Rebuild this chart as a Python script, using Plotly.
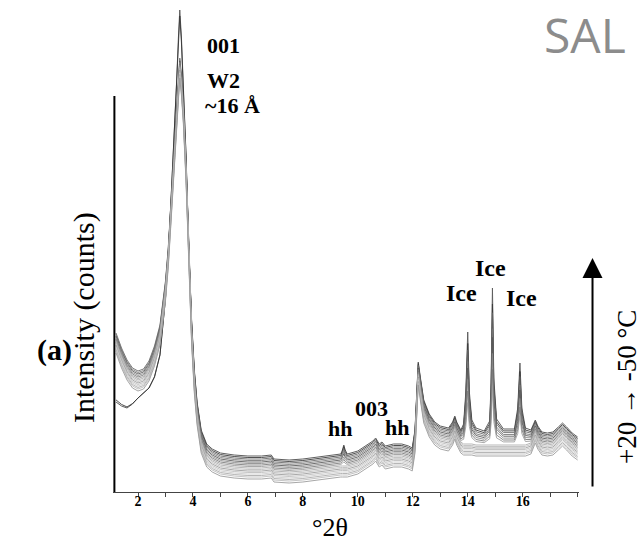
import plotly.graph_objects as go

# ---------------- data ----------------
two_theta = [
    1.2, 1.4, 1.6, 1.8, 2.0, 2.2, 2.4, 2.6, 2.8, 3.0,
    3.1, 3.2, 3.3, 3.4, 3.47, 3.52, 3.58, 3.65, 3.75, 3.85,
    3.95, 4.05, 4.15, 4.3, 4.5, 4.7, 5.0, 5.5, 6.0, 6.5,
    6.85, 6.95, 7.5, 8.0, 8.5, 9.0, 9.38, 9.44, 9.49, 9.54,
    9.62, 10.0, 10.3, 10.55, 10.65, 10.78, 10.88, 11.0, 11.3, 11.6,
    11.85, 11.98, 12.08, 12.15, 12.2, 12.28, 12.4, 12.6, 12.8, 13.0,
    13.3, 13.45, 13.53, 13.6, 13.75, 13.85, 13.93, 14.0, 14.06, 14.15,
    14.3, 14.6, 14.8, 14.85, 14.9, 14.95, 15.05, 15.3, 15.7, 15.82,
    15.9, 15.97, 16.1, 16.3, 16.46, 16.55, 16.7, 16.9, 17.1, 17.3,
    17.45, 17.6, 17.8, 18.0,
]

# uppermost pattern (counts, arbitrary units)
base_counts = [
    160, 145, 133, 125, 122, 124, 132, 147, 168, 212,
    245, 290, 340, 390, 422, 435, 418, 390, 330, 240,
    170, 120, 88, 60, 46, 41, 37, 35, 34, 34,
    35, 31, 30, 31, 33, 35, 36, 36, 36, 36,
    36, 39, 44, 49, 52, 46, 48, 44, 46, 46,
    44, 42, 60, 105, 128, 112, 90, 76, 68, 64,
    62, 68, 74, 68, 60, 58, 58, 58, 58, 58,
    57, 57, 57, 57, 57, 57, 57, 57, 57, 57,
    57, 57, 57, 59, 70, 64, 58, 57, 58, 63,
    67, 63, 57, 53,
]

# ice reflections (present at low temperature)
ice_counts = [
    0, 0, 0, 0, 0, 0, 0, 0, 0, 0,
    0, 0, 0, 0, 0, 0, 0, 0, 0, 0,
    0, 0, 0, 0, 0, 0, 0, 0, 0, 0,
    0, 0, 0, 0, 0, 0, 0, 0, 0, 0,
    0, 0, 0, 0, 0, 0, 0, 0, 0, 0,
    0, 0, 0, 0, 0, 0, 0, 0, 0, 0,
    0, 0, 0, 0, 0, 8, 40, 100, 40, 12,
    5, 2, 12, 50, 145, 55, 14, 4, 4, 25,
    70, 25, 5, 1, 0, 0, 0, 0, 0, 0,
    0, 0, 0, 0,
]

# hydrohalite (hh) reflection near 9.5 deg
hh_counts = [
    0, 0, 0, 0, 0, 0, 0, 0, 0, 0,
    0, 0, 0, 0, 0, 0, 0, 0, 0, 0,
    0, 0, 0, 0, 0, 0, 0, 0, 0, 0,
    0, 0, 0, 0, 0, 0, 0, 4, 9, 4,
    0, 0, 0, 0, 0, 0, 0, 0, 0, 0,
    0, 0, 0, 0, 0, 0, 0, 0, 0, 0,
    0, 0, 0, 0, 0, 0, 0, 0, 0, 0,
    0, 0, 0, 0, 0, 0, 0, 0, 0, 0,
    0, 0, 0, 0, 0, 0, 0, 0, 0, 0,
    0, 0, 0, 0,
]

# extra height of the sharpest 001 (W2) peaks
w2_extra = [
    0, 0, 0, 0, 0, 0, 0, 0, 0, 0,
    0, 0, 4, 15, 30, 45, 35, 15, 4, 0,
    0, 0, 0, 0, 0, 0, 0, 0, 0, 0,
    0, 0, 0, 0, 0, 0, 0, 0, 0, 0,
    0, 0, 0, 0, 0, 0, 0, 0, 0, 0,
    0, 0, 0, 0, 0, 0, 0, 0, 0, 0,
    0, 0, 0, 0, 0, 0, 0, 0, 0, 0,
    0, 0, 0, 0, 0, 0, 0, 0, 0, 0,
    0, 0, 0, 0, 0, 0, 0, 0, 0, 0,
    0, 0, 0, 0,
]

# lower low-angle scatter of two patterns
low_angle_drop = [
    72, 61, 51, 39, 30, 27, 30, 34, 33, 20,
    10, 0, 0, 0, 0, 0, 0, 0, 0, 0,
    0, 0, 0, 0, 0, 0, 0, 0, 0, 0,
    0, 0, 0, 0, 0, 0, 0, 0, 0, 0,
    0, 0, 0, 0, 0, 0, 0, 0, 0, 0,
    0, 0, 0, 0, 0, 0, 0, 0, 0, 0,
    0, 0, 0, 0, 0, 0, 0, 0, 0, 0,
    0, 0, 0, 0, 0, 0, 0, 0, 0, 0,
    0, 0, 0, 0, 0, 0, 0, 0, 0, 0,
    0, 0, 0, 0,
]

# per-pattern parameters (cold -> warm)
curve_shift = [0, -1.5, -3, -4.5, -6, -7.5, -9, -10.5, -12, -13.5, -15, -16.5, -18, -19.5, -21, -23]
curve_ice = [1.0, 0.9, 0.85, 0.75, 0.7, 0.6, 0.5, 0.4, 0, 0, 0, 0, 0, 0, 0, 0]
curve_hh = [1.0, 1.0, 0.9, 0.8, 0.7, 0.5, 0.4, 0.3, 0, 0, 0, 0, 0, 0, 0, 0]
curve_w2 = [1.0, 0.9, 0, 0, 0, 0, 0, 0, 0, 0, 0, 0, 0, 0, 0, 0]
curve_low = [1.0, 0.95, 0, 0, 0, 0, 0, 0, 0, 0, 0, 0, 0, 0, 0, 0]
curve_grey = ["#444444", "#333333", "#666666", "#777777", "#555555", "#888888",
              "#777777", "#999999", "#aaaaaa", "#bbbbbb", "#999999", "#bbbbbb",
              "#cccccc", "#aaaaaa", "#bbbbbb", "#999999"]

tick_vals = [2, 4, 6, 8, 10, 12, 14, 16]
tick_text = ["2", "4", "6", "8", "10", "12", "14", "16"]
minor_vals = [3, 5, 7, 9, 11, 13, 15, 17, 18]

SERIF = "Liberation Serif"

fig = go.Figure()
for i in range(len(curve_shift)):
    yv = [b + curve_shift[i] + curve_ice[i] * ic + curve_hh[i] * h
          + curve_w2[i] * w - curve_low[i] * lo
          for b, ic, h, w, lo in zip(base_counts, ice_counts, hh_counts,
                                     w2_extra, low_angle_drop)]
    fig.add_trace(go.Scatter(x=two_theta, y=yv, mode="lines",
                             line=dict(color=curve_grey[i], width=1),
                             opacity=0.85, hoverinfo="skip", showlegend=False))

peak_labels = [
    ("001", 4.44, 445, "left", 22),
    ("W2", 4.44, 410, "left", 22),
    ("~16 Å", 4.38, 385, "left", 22),
    ("hh", 9.35, 62, "center", 22),
    ("003", 10.51, 82, "center", 22),
    ("hh", 11.42, 63, "center", 22),
    ("Ice", 13.78, 197, "center", 24),
    ("Ice", 14.84, 222, "center", 24),
    ("Ice", 15.96, 192, "center", 24),
]
annotations = []
for txt, xx, yy, anc, fs in peak_labels:
    annotations.append(dict(text=txt, x=xx, y=yy, xref="x", yref="y",
                            xanchor=anc, yanchor="middle", showarrow=False,
                            font=dict(family=SERIF, size=fs, color="black", weight="bold")))

annotations += [
    dict(text="(a)", x=-0.1245, y=0.2916, xref="paper", yref="paper",
         xanchor="center", yanchor="middle", showarrow=False,
         font=dict(family=SERIF, size=30, color="black", weight="bold")),
    dict(text="Intensity (counts)", x=-0.062, y=0.3573, xref="paper", yref="paper",
         xanchor="center", yanchor="middle", showarrow=False, textangle=-90,
         font=dict(family=SERIF, size=30, color="black")),
    dict(text="°2θ", x=0.4657, y=-0.0719, xref="paper", yref="paper",
         xanchor="center", yanchor="middle", showarrow=False,
         font=dict(family=SERIF, size=26, color="black")),
    dict(text="+20 → -50 °C", x=1.103, y=0.2156, xref="paper", yref="paper",
         xanchor="center", yanchor="middle", showarrow=False, textangle=-90,
         font=dict(family=SERIF, size=27, color="black")),
    dict(text="SAL", x=0.921, y=1.0103, xref="paper", yref="paper",
         xanchor="left", yanchor="top", showarrow=False,
         font=dict(family="Open Sans", size=48, color="#8c8c8c")),
    dict(text="", x=1.029, y=0.4805, xref="paper", yref="paper",
         showarrow=True, ax=0, ay=230, axref="pixel", ayref="pixel",
         arrowhead=2, arrowsize=2.0, arrowwidth=2, arrowcolor="black", standoff=0),
]

fig.update_layout(
    width=642, height=542,
    margin=dict(l=113, r=63, t=5, b=50),
    paper_bgcolor="white", plot_bgcolor="white",
    showlegend=False,
    annotations=annotations,
    shapes=[dict(type="line", xref="paper", yref="paper", x0=0.003, x1=0.003,
                 y0=0, y1=0.813, line=dict(color="black", width=2))],
    xaxis=dict(range=[1.09, 18.05], tickmode="array", tickvals=tick_vals,
               ticktext=tick_text, ticks="outside", ticklen=4, tickwidth=1,
               tickcolor="#444444", showline=True, linecolor="#444444", linewidth=1,
               showgrid=False, zeroline=False, ticklabelstandoff=-8,
               tickfont=dict(family=SERIF, size=14, color="black", weight="bold"),
               minor=dict(tickmode="array", tickvals=minor_vals, ticks="outside",
                          ticklen=4, tickwidth=1, tickcolor="#444444", showgrid=False)),
    yaxis=dict(range=[-2, 485], showticklabels=False, showline=False,
               showgrid=False, zeroline=False, ticks=""),
)

fig.write_html("out.html")
